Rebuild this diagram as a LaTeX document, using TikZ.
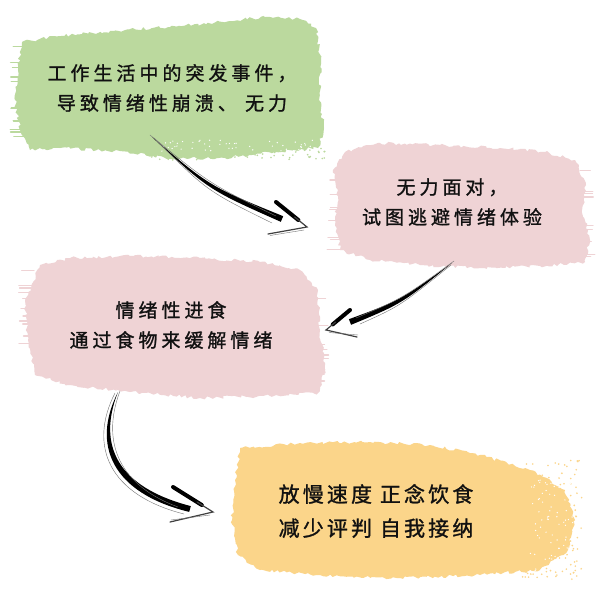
\documentclass[tikz,border=0pt]{standalone}
\usepackage{fontspec}
\newfontfamily\cjk[LetterSpace=21,FakeBold=1.2]{Noto Sans CJK SC}
\newfontfamily\cjkb[LetterSpace=15,FakeBold=1.2]{Noto Sans CJK SC}
\usetikzlibrary{decorations.pathmorphing,calc}
\definecolor{greenc}{HTML}{BBD99E}
\definecolor{pinkc}{HTML}{EFD3D5}
\definecolor{yellowc}{HTML}{FBD58A}
\definecolor{inkc}{HTML}{111111}
\tikzset{
  brush/.style={decorate, decoration={random steps, segment length=3pt, amplitude=1.6pt}},
  streak/.style={line width=1.2pt, line cap=round},
  label/.style={font=\cjk\fontsize{19}{30}\selectfont, text=inkc, align=center, inner sep=0pt},
  labelb/.style={font=\cjkb\fontsize{21}{34}\selectfont, text=inkc, align=center, inner sep=0pt},
  barb/.style={draw=black, line width=4pt, line cap=round},
  thinbarb/.style={draw=black!75, line width=1.2pt, line cap=round},
  sketch/.style={draw=black!55, line width=0.4pt, line cap=round},
}
\begin{document}
\begin{tikzpicture}[x=1pt,y=-1pt]
\pgfmathsetseed{12}
\useasboundingbox (0,0) rectangle (600,600);
\fill[white] (0,0) rectangle (600,600);
% green blob
\fill[greenc, brush] (22,42) -- (60,36) -- (110,31) -- (170,27) -- (230,21) -- (265,17) -- (300,19) -- (316,28) -- (321,60) -- (319,100) -- (324,128) -- (318,148) -- (275,152) -- (225,158) -- (170,159) -- (120,151) -- (60,148) -- (30,150) -- (20,130) -- (15,100) -- (18,70) -- cycle;
\foreach \i in {1,...,70} {\fill[greenc] ({150+175*rnd},{148+12*rnd}) circle (0.9);}
\foreach \i in {1,...,50} {\fill[white] ({160+160*rnd},{140+12*rnd}) circle (0.7);}
\foreach \i in {1,...,12} {\pgfmathsetmacro\yy{45+100*rnd}\draw[greenc, streak] (10+4*rnd,\yy) -- (24,\yy);}
% pink right blob
\fill[pinkc, brush] (345,152) -- (380,143) -- (440,145) -- (500,148) -- (545,152) -- (575,160) -- (586,185) -- (582,210) -- (590,240) -- (585,262) -- (540,266) -- (480,268) -- (420,265) -- (370,260) -- (340,250) -- (335,220) -- (338,190) -- (333,170) -- cycle;
\foreach \i in {1,...,10} {\pgfmathsetmacro\yy{155+95*rnd}\draw[pinkc, streak] (326+6*rnd,\yy) -- (342,\yy);}
\foreach \i in {1,...,10} {\pgfmathsetmacro\yy{165+95*rnd}\draw[pinkc, streak] (580,\yy) -- (590+5*rnd,\yy);}
% pink left blob
\fill[pinkc, brush] (40,265) -- (70,258) -- (130,256) -- (200,258) -- (260,262) -- (300,270) -- (318,290) -- (320,330) -- (325,370) -- (318,393) -- (270,396) -- (200,398) -- (130,392) -- (70,385) -- (35,375) -- (28,340) -- (25,300) -- cycle;
\foreach \i in {1,...,12} {\pgfmathsetmacro\yy{270+100*rnd}\draw[pinkc, streak] (18+6*rnd,\yy) -- (34,\yy);}
\foreach \i in {1,...,10} {\pgfmathsetmacro\yy{290+95*rnd}\draw[pinkc, streak] (314,\yy) -- (324+5*rnd,\yy);}
% yellow blob
\fill[yellowc, brush] (240,448) -- (300,443) -- (370,442) -- (430,445) -- (480,455) -- (530,470) -- (565,490) -- (575,520) -- (568,550) -- (540,570) -- (480,575) -- (400,578) -- (320,575) -- (260,570) -- (238,555) -- (232,520) -- (235,480) -- cycle;
\foreach \i in {1,...,160} {\fill[yellowc] ({520+62*rnd},{460+120*rnd}) circle (0.9);}
\foreach \i in {1,...,80} {\fill[white] ({530+45*rnd},{480+95*rnd}) circle (0.7);}
% texts
\node[label] (n1) at (172,88) {工作生活中的突发事件，\\导致情绪性崩溃、 无力};
\node[label] (n2) at (452,202) {无力面对，\\试图逃避情绪体验};
\node[label] (n3) at (171,325) {情绪性进食\\通过食物来缓解情绪};
\node[labelb] (n4) at (376,511) {放慢速度 正念饮食\\减少评判 自我接纳};
% arrow anchors
\coordinate (a1s) at (152,137);
\coordinate (a1c) at (209,188);
\coordinate (a1e) at (282,219);
\coordinate (a1t) at (307,227);
\coordinate (a1u) at (276,202);
\coordinate (a1l) at (268,234);
\coordinate (a2s) at (452,263);
\coordinate (a2c) at (401,302);
\coordinate (a2e) at (350,322);
\coordinate (a2t) at (326,330);
\coordinate (a2u) at (350,310);
\coordinate (a2l) at (357,337);
\coordinate (a3s) at (118,392);
\coordinate (a3e) at (190,509);
\coordinate (a3t) at (213,512);
\coordinate (a3u) at (173,487);
\coordinate (a3l) at (170,522);
% arrow 1
\fill[black] (a1s) .. controls ($(a1c)+(0.8,-1.6)$) .. ($(a1e)+(1.2,-2.8)$) -- ($(a1e)+(-1.2,2.8)$) .. controls ($(a1c)+(-0.8,1.6)$) .. (a1s) -- cycle;
\draw[sketch] ($(a1s)+(-2,-2)$) .. controls ($(a1c)+(1,-4)$) .. ($(a1e)+(-6,-3)$);
\draw[sketch] ($(a1s)+(2,1)$) .. controls ($(a1c)+(-2,3)$) .. ($(a1e)+(-10,4)$);
\draw[barb] (a1u) -- ($(a1u)!0.72!(a1t)$);
\draw[thinbarb] ($(a1u)!0.6!(a1t)$) -- (a1t) -- (a1l);
\draw[sketch] ($(a1t)+(-3,3)$) -- ($(a1l)+(2,1.5)$);
% arrow 2
\fill[black] (a2s) .. controls ($(a2c)+(1.2,1.5)$) .. ($(a2e)+(1.1,2.8)$) -- ($(a2e)+(-1.1,-2.8)$) .. controls ($(a2c)+(-1.2,-1.5)$) .. (a2s) -- cycle;
\draw[sketch] ($(a2s)+(2,-2)$) .. controls ($(a2c)+(2,-4)$) .. ($(a2e)+(6,-4)$);
\draw[sketch] ($(a2s)+(-1,2)$) .. controls ($(a2c)+(-1,4)$) .. ($(a2e)+(10,2)$);
\draw[barb] (a2u) -- ($(a2u)!0.72!(a2t)$);
\draw[thinbarb] ($(a2u)!0.6!(a2t)$) -- (a2t) -- (a2l);
\draw[sketch] ($(a2t)+(3,2.5)$) -- ($(a2l)+(1,-2)$);
% arrow 3
\fill[black] (a3s) .. controls (97,445) and (117,487) .. ($(a3e)+(0.8,-2.9)$) -- ($(a3e)+(-0.8,2.9)$) .. controls (112,493) and (91,445) .. (a3s) -- cycle;
\draw[sketch] ($(a3s)+(-3,1)$) .. controls (88,446) and (109,495) .. ($(a3e)+(-6,5)$);
\draw[sketch] ($(a3s)+(2,-1)$) .. controls (100,444) and (121,486) .. ($(a3e)+(-12,-2)$);
\draw[barb] (a3u) -- ($(a3u)!0.72!(a3t)$);
\draw[thinbarb] ($(a3u)!0.6!(a3t)$) -- (a3t) -- (a3l);
\draw[sketch] ($(a3t)+(-3,3)$) -- ($(a3l)+(1,-2)$);
\end{tikzpicture}
\end{document}
